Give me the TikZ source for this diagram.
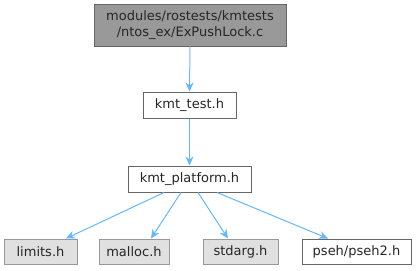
\documentclass[tikz,border=0pt]{standalone}
\usepackage{fontspec}
\setmainfont{DejaVu Sans}
\usetikzlibrary{arrows.meta,calc}
\definecolor{edgeblue}{HTML}{63B8FF}
\definecolor{topfill}{HTML}{999999}
\definecolor{darkborder}{HTML}{666666}
\definecolor{greyfill}{HTML}{E0E0E0}
\definecolor{greyborder}{HTML}{999999}
\tikzset{
  box/.style={draw=darkborder, fill=white, line width=1pt, inner sep=0pt, align=center, font=\fontsize{13}{16}\selectfont, text=black!85},
  topbox/.style={box, fill=topfill},
  sysbox/.style={box, draw=greyborder, fill=greyfill},
  edge/.style={draw=edgeblue, line width=1pt, -{Stealth[length=9pt,width=8pt]}}
}
\begin{document}
\begin{tikzpicture}[x=1pt,y=-1pt]
\useasboundingbox (0,0) rectangle (416,271);
\node[topbox, minimum width=192pt, minimum height=42pt] (top) at (190,25) {modules/rostests/kmtests\\/ntos\_ex/ExPushLock.c};
\node[box, minimum width=93pt, minimum height=26pt] (test) at (189.5,105) {kmt\_test.h};
\node[box, minimum width=123pt, minimum height=26pt] (plat) at (189.5,179) {kmt\_platform.h};
\node[sysbox, minimum width=73pt, minimum height=25pt] (limits) at (40.5,251.5) {limits.h};
\node[sysbox, minimum width=70pt, minimum height=25pt] (malloc) at (134,251.5) {malloc.h};
\node[sysbox, minimum width=75pt, minimum height=25pt] (stdarg) at (240.5,251.5) {stdarg.h};
\node[box, minimum width=109pt, minimum height=25pt] (pseh) at (356.5,251.5) {pseh/pseh2.h};
\draw[edge] (top.south) -- (test.north);
\draw[edge] (test.south) -- (plat.north);
\draw[edge] ($(plat.south)+(-25.5,0)$) -- ($(limits.north)+(25.5,0)$);
\draw[edge] ($(plat.south)+(-8.5,0)$) -- ($(malloc.north)+(17,0)$);
\draw[edge] ($(plat.south)+(8.5,0)$) -- ($(stdarg.north)+(-12.5,0)$);
\draw[edge] ($(plat.south)+(27.5,0)$) -- ($(pseh.north)+(-28.5,0)$);
\end{tikzpicture}
\end{document}
